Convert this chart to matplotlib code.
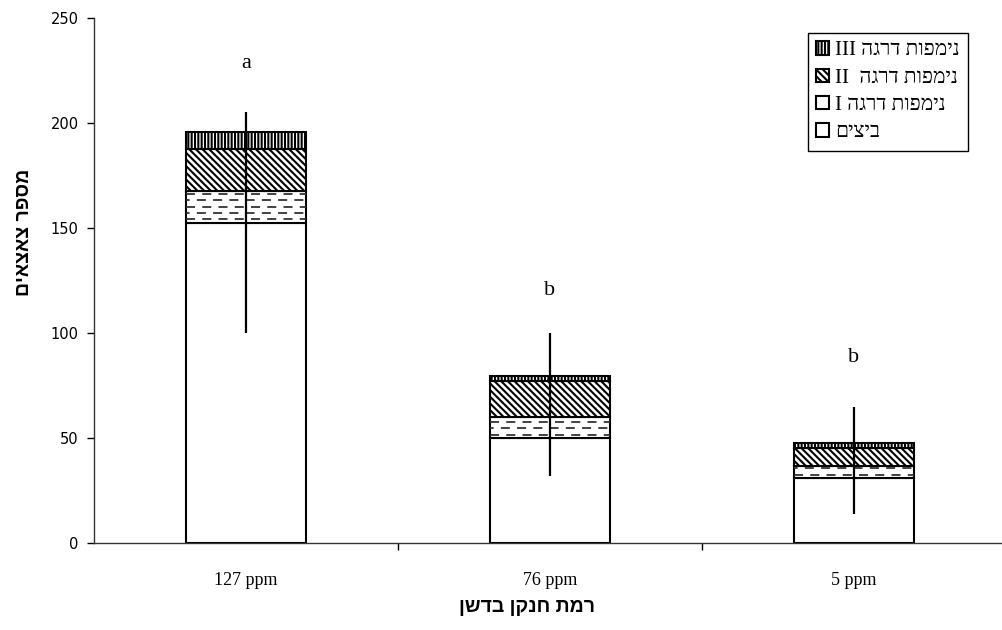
import numpy as np
import matplotlib.pyplot as plt

# Nymph/egg counts per nitrogen level (stacked), error bar ends and letters
levels = ["127 ppm", "76 ppm", "5 ppm"]
eggs = [152.5, 50.0, 31.0]
nymph_1 = [15.0, 10.0, 5.8]
nymph_2 = [20.0, 17.0, 8.3]
nymph_3 = [8.0, 2.5, 2.4]
err_low = [100.0, 32.0, 14.0]
err_high = [205.0, 100.0, 65.0]
letters = ["a", "b", "b"]
letter_y = [228.5, 120.0, 88.5]

# Hebrew strings are written in visual (left-to-right) order
lbl_eggs = "ביצים"[::-1]
lbl_n1 = "I " + "נימפות דרגה"[::-1]
lbl_n2 = "II  " + "נימפות דרגה"[::-1]
lbl_n3 = "III " + "נימפות דרגה"[::-1]
ylab = "מספר צאצאים"[::-1]
xlab = "רמת חנקן בדשן"[::-1]

serif = ["Liberation Serif", "DejaVu Sans"]
sans = ["Liberation Sans", "DejaVu Sans"]

plt.rcParams["hatch.linewidth"] = 1.5

fig = plt.figure(figsize=(10.02, 6.3), dpi=100)
ax = fig.add_axes([94 / 1002, 87 / 630, 912 / 1002, 525 / 630])

x = np.arange(len(levels))
w = 0.395
kw = dict(width=w, edgecolor="black", linewidth=1.5)

b0 = ax.bar(x, eggs, color="white", **kw)
bot = np.array(eggs)
b1 = ax.bar(x, nymph_1, bottom=bot, color="white", **kw)
bot = bot + np.array(nymph_1)
b2 = ax.bar(x, nymph_2, bottom=bot, color="white", hatch="\\" * 5, **kw)
bot = bot + np.array(nymph_2)
b3 = ax.bar(x, nymph_3, bottom=bot, color="white", hatch="|||||", **kw)

# dashed horizontal fill for stage I nymphs
for i, p in enumerate(b1.patches):
    y0 = p.get_y()
    ys = np.arange(y0 + 1.6, y0 + p.get_height() - 0.8, 3.0)
    for k, yy in enumerate(ys):
        off = 0 if k % 2 == 0 else 3
        ln = ax.hlines(yy, p.get_x(), p.get_x() + p.get_width(),
                       colors="#333333", linewidth=1.3,
                       linestyles=[(off, (5, 4))], zorder=p.get_zorder() + 0.1)
        ln.set_clip_path(p)

ax.vlines(x, err_low, err_high, colors="black", linewidth=1.6, zorder=5)

for xi, t, yy in zip(x, letters, letter_y):
    ax.text(xi, yy, t, ha="center", va="center", fontsize=16, family=serif)

ax.set_xlim(-0.5, 2.5)
ax.set_ylim(0, 250)
ax.set_yticks([0, 50, 100, 150, 200, 250])
ax.tick_params(axis="y", direction="out", length=5, width=1, pad=6,
               labelsize=10.5)
for t in ax.get_yticklabels():
    t.set_family("DejaVu Sans")

ax.set_xticks(x)
ax.set_xticklabels(levels, family=serif, fontsize=13)
ax.tick_params(axis="x", length=0, pad=21)
ax.set_xticks([0.5, 1.5], minor=True)
ax.tick_params(axis="x", which="minor", direction="out", length=5, width=1)

for s in ["top", "right"]:
    ax.spines[s].set_visible(False)
for s in ["left", "bottom"]:
    ax.spines[s].set_linewidth(1)
    ax.spines[s].set_color("#333333")

fig.text(25 / 1002, 1 - 232 / 630, ylab, rotation=90, ha="center",
         va="center", fontsize=14, fontweight="bold", family=sans)
fig.text(527 / 1002, 1 - 607 / 630, xlab, ha="center", va="center",
         fontsize=14, fontweight="bold", family=sans)

leg = ax.legend([b3, b2, b1, b0], [lbl_n3, lbl_n2, lbl_n1, lbl_eggs],
                loc="upper right", bbox_to_anchor=(968 / 1002, 1 - 33 / 630),
                bbox_transform=fig.transFigure, borderaxespad=0,
                fancybox=False, framealpha=1, edgecolor="black",
                handlelength=0.6, handleheight=0.6, handletextpad=0.3,
                labelspacing=0.4, borderpad=0.4,
                prop=dict(family=serif, size=15))
leg.get_frame().set_linewidth(1)

fig.savefig("out.png", dpi=100)
